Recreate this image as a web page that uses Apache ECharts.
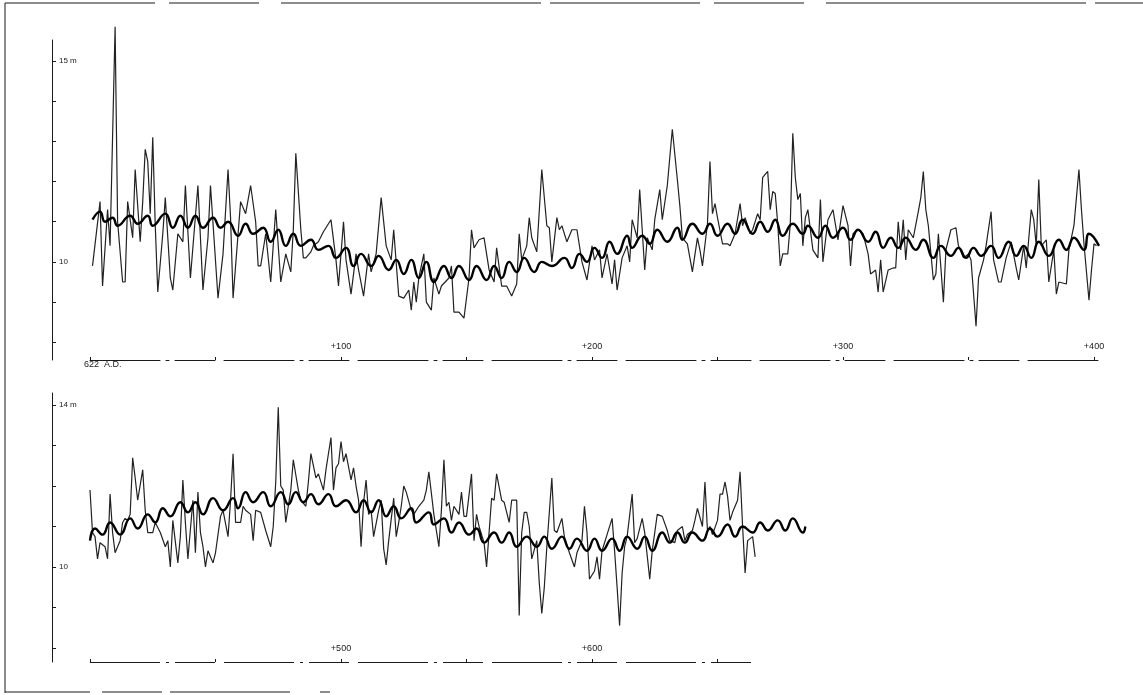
<!DOCTYPE html>
<html>
<head>
<meta charset="utf-8">
<title>Nile flood levels from 622 A.D.</title>
<script src="https://cdn.jsdelivr.net/npm/echarts@6/dist/echarts.min.js"></script>
<style>
  html, body { margin: 0; padding: 0; background: #fff; }
  #chart { width: 1143px; height: 695px; }
</style>
</head>
<body>
<div id="chart"></div>
<script>
// years counted from 622 A.D., levels in metres

// upper strip: annual maxima, years 0 - 400
const topYears = [
  1,4,5,7,8,10,11,13,14,15,
  17,18,20,21,22,23,24,25,26,27,
  29,30,32,33,35,37,38,40,43,45,
  47,48,51,53,55,56,57,60,62,64,
  66,67,68,70,72,74,76,78,80,81,
  82,84,85,86,88,89,91,93,96,98,
  99,101,102,104,106,107,109,111,112,114,
  116,118,120,121,123,125,127,128,129,130,
  131,133,134,136,137,139,140,143,144,145,
  147,149,151,152,153,155,157,159,161,162,
  164,166,168,170,171,172,174,175,176,178,
  180,182,183,184,186,187,188,190,192,194,
  196,198,200,201,203,204,206,208,209,210,
  212,214,215,216,218,219,221,222,224,225,
  227,228,230,232,234,235,236,238,239,240,
  242,243,244,246,247,248,249,250,252,254,
  255,257,259,260,261,263,264,266,267,268,
  270,271,272,273,274,275,276,278,279,280,
  281,282,283,284,285,286,288,290,291,292,
  294,296,298,300,302,303,304,306,308,310,
  311,313,314,315,316,318,320,321,322,323,
  324,325,326,328,330,331,332,333,334,336,
  337,338,340,341,343,345,346,348,350,351,
  353,354,356,357,359,360,362,363,365,367,
  369,370,372,373,375,376,377,378,379,381,
  382,384,385,386,389,390,392,393,394,395,
  396,398,399,400,401
]
const topLevels = [
  9.9,11.5,9.4,11.3,10.4,15.85,11.0,9.5,9.5,11.5,
  10.6,12.3,10.5,11.5,12.8,12.5,11.2,13.1,10.9,9.25,
  10.7,11.6,9.6,9.3,10.7,10.5,11.9,9.6,11.9,9.3,
  10.6,11.9,9.1,10.2,12.3,11.1,9.1,11.5,11.2,11.9,
  11.0,9.9,9.9,10.7,9.5,11.3,9.5,10.2,9.75,10.8,
  12.7,10.8,10.1,10.1,10.25,10.4,10.5,10.75,11.05,10.05,
  9.4,11.0,10.05,9.2,10.2,9.8,9.15,10.2,9.75,10.2,
  11.6,10.4,10.05,10.8,9.15,9.1,9.3,8.8,9.5,9.0,
  9.6,10.2,9.0,8.8,9.6,9.2,9.4,9.6,9.9,8.75,
  8.75,8.6,9.6,10.8,10.35,10.55,10.6,9.8,9.5,10.35,
  9.4,9.4,9.15,9.45,10.7,10.05,10.4,11.1,10.6,10.25,
  12.3,10.9,10.85,10.0,11.1,10.8,10.9,10.5,10.8,10.8,
  10.0,9.55,10.4,10.05,10.3,9.6,10.2,9.45,10.05,9.3,
  10.1,10.4,10.0,11.05,10.6,11.8,9.8,10.6,10.3,11.05,
  11.8,11.05,11.9,13.3,12.05,11.4,10.6,10.45,10.1,9.75,
  10.6,10.3,9.9,10.95,12.5,11.2,11.45,11.1,10.45,10.45,
  10.4,10.7,11.45,10.9,11.1,10.7,10.8,11.2,11.05,12.1,
  12.25,11.3,11.75,11.7,10.95,9.9,10.2,10.2,10.95,13.2,
  12.1,11.55,11.7,10.4,11.1,11.3,10.3,10.1,11.55,10.0,
  11.05,11.3,10.55,11.4,10.9,9.9,10.7,10.8,10.7,10.2,
  9.7,9.8,9.25,10.05,9.25,9.8,9.85,9.85,11.0,10.3,
  11.05,10.05,10.8,10.6,11.25,11.6,12.25,11.3,10.9,9.55,
  9.7,10.7,9.0,10.3,10.8,10.85,10.4,10.1,10.2,10.05,
  8.4,9.6,10.05,10.4,11.25,10.05,9.5,9.5,10.1,10.5,
  9.85,9.55,10.4,9.85,11.3,11.05,10.4,12.05,10.4,10.55,
  9.5,10.3,9.2,9.5,9.45,10.3,10.9,11.6,12.3,11.3,
  10.45,9.05,9.8,10.45,10.4
]

// upper strip: smoothed curve, crests and troughs
const topSmoothYears = [
  1,4,6,9,11,16,19,23,25,30,
  33,36,39,42,45,49,52,55,59,62,
  65,69,72,75,78,81,84,88,91,95,
  98,102,105,108,112,115,119,122,125,128,
  131,134,137,141,144,147,151,154,158,161,
  164,167,170,173,177,180,184,189,192,195,
  198,201,204,207,210,214,216,220,223,226,
  230,234,236,240,244,247,250,254,257,260,
  264,267,270,273,276,280,284,286,290,293,
  296,300,303,306,310,313,316,319,322,325,
  329,332,336,339,343,346,349,352,355,359,
  362,366,369,372,375,378,382,386,389,392,
  396,398,402
]
const topSmoothLevels = [
  11.05,11.25,11.0,11.1,10.9,11.15,10.95,11.15,10.9,11.2,
  10.85,11.15,10.85,11.15,10.85,11.1,10.85,11.0,10.65,10.95,
  10.7,10.85,10.5,10.8,10.4,10.7,10.4,10.55,10.3,10.4,
  10.1,10.35,9.9,10.2,9.9,10.15,9.8,10.05,9.7,10.05,
  9.6,10.0,9.5,9.9,9.6,9.9,9.55,9.9,9.55,9.9,
  9.6,10.0,9.75,10.1,9.75,10.0,9.9,10.1,9.85,10.2,
  10.0,10.35,10.1,10.5,10.2,10.65,10.35,10.65,10.45,10.8,
  10.5,10.85,10.55,10.95,10.7,10.95,10.65,10.95,10.7,11.05,
  10.7,11.0,10.75,11.05,10.65,10.95,10.7,10.9,10.6,10.9,
  10.6,10.85,10.55,10.8,10.5,10.75,10.35,10.6,10.35,10.6,
  10.3,10.55,10.1,10.4,10.15,10.35,10.1,10.35,10.15,10.4,
  10.1,10.5,10.15,10.4,10.1,10.5,10.15,10.55,10.3,10.6,
  10.3,10.7,10.4
]

// lower strip: annual maxima, years 400 - 665
const lowYears = [
  400,401,402,403,404,406,407,408,409,410,
  412,413,414,415,416,417,418,419,421,422,
  423,425,426,428,430,431,432,433,435,436,
  437,438,439,441,442,443,444,445,446,447,
  449,450,452,453,455,456,457,458,460,461,
  462,464,465,466,468,470,472,473,474,475,
  476,477,478,480,481,483,484,486,487,488,
  490,491,493,494,496,497,498,499,500,501,
  502,504,505,506,507,508,509,510,511,512,
  513,515,516,517,518,519,521,522,523,524,
  525,526,528,529,531,533,534,535,537,538,
  539,540,541,542,543,544,545,547,548,549,
  550,552,553,554,555,557,558,559,560,561,
  562,564,565,567,568,570,571,572,573,574,
  575,576,578,579,580,581,582,584,585,586,
  588,589,591,593,594,596,597,598,599,601,
  602,603,604,606,608,609,610,611,612,613,
  614,616,617,618,620,621,623,624,626,628,
  630,631,633,634,636,637,638,640,641,642,
  644,645,646,647,648,650,651,652,653,654,
  655,656,658,659,660,661,662,664,665
]
const lowLevels = [
  11.9,10.85,10.75,10.2,10.6,10.5,10.2,11.8,10.85,10.35,
  10.65,11.1,11.2,11.15,11.3,12.7,12.2,11.65,12.4,11.4,
  10.85,10.85,11.1,10.85,10.5,10.65,10.0,11.15,10.1,10.75,
  12.15,11.1,10.2,11.65,10.35,11.85,10.85,10.5,10.0,10.4,
  10.1,10.35,11.25,11.4,10.75,11.65,12.8,11.1,11.1,11.5,
  11.4,11.3,10.65,11.4,11.35,10.9,10.5,11.0,12.1,13.95,
  12.0,11.9,11.1,11.9,12.65,11.9,11.65,11.5,12.1,12.8,
  12.2,12.3,11.9,12.4,13.2,11.9,12.45,12.55,13.1,12.6,
  12.8,12.15,12.45,12.0,11.65,10.5,11.6,12.15,11.3,11.4,
  10.75,11.4,11.65,10.45,10.05,10.65,11.7,10.75,11.1,11.5,
  12.0,11.85,11.4,11.3,11.5,11.65,11.9,12.35,11.3,10.9,
  10.5,11.4,12.65,11.5,11.6,11.15,11.5,11.3,11.85,11.25,
  11.25,12.3,10.65,11.3,11.0,10.6,10.0,10.85,11.7,11.65,
  12.3,11.65,11.6,11.1,11.65,11.65,8.8,10.85,11.35,11.35,
  11.0,10.2,10.65,9.6,8.85,9.5,10.5,12.2,10.9,10.85,
  11.2,10.75,10.35,10.0,10.35,10.65,11.5,10.85,9.7,9.9,
  10.25,9.7,10.4,10.8,11.2,10.4,9.5,8.55,9.85,10.5,
  10.75,11.8,10.6,10.7,11.2,10.85,9.7,10.4,11.3,11.25,
  10.9,10.65,10.6,10.9,11.0,10.65,10.8,10.9,11.15,11.45,
  11.0,12.1,10.9,11.0,10.8,11.15,11.8,11.8,12.1,11.75,
  11.15,11.35,11.65,12.35,11.0,9.85,10.65,10.75,10.25
]

// lower strip: smoothed curve, runs on past the last annual value
const lowSmoothYears = [
  400,402,405,408,412,416,419,423,426,429,
  432,436,439,442,445,449,453,457,459,462,
  465,469,472,476,479,482,485,488,491,495,
  498,502,506,509,512,515,518,521,524,528,
  530,535,537,541,544,547,551,554,557,561,
  564,567,570,574,578,581,584,588,591,594,
  598,601,604,608,611,614,618,621,624,628,
  631,634,637,640,644,647,650,654,657,660,
  664,667,670,674,677,680,684,685
]
const lowSmoothLevels = [
  10.65,10.95,10.8,11.1,10.8,11.2,10.95,11.3,11.1,11.45,
  11.25,11.6,11.35,11.6,11.3,11.7,11.4,11.7,11.45,11.85,
  11.6,11.85,11.5,11.85,11.55,11.85,11.6,11.8,11.55,11.8,
  11.5,11.65,11.35,11.65,11.35,11.65,11.25,11.5,11.2,11.45,
  11.1,11.35,11.05,11.2,10.85,11.1,10.8,10.95,10.6,10.85,
  10.6,10.85,10.5,10.75,10.5,10.75,10.45,10.75,10.45,10.7,
  10.4,10.7,10.4,10.7,10.4,10.75,10.45,10.75,10.4,10.85,
  10.6,10.85,10.6,10.85,10.65,10.95,10.75,11.05,10.75,11.0,
  10.85,11.1,10.9,11.15,10.9,11.2,10.85,11.0
]

const topTicks = [8, 9, 10, 11, 12, 13, 14, 15]
const topLabels = [10, 15]
const lowTicks = [8, 9, 10, 11, 12, 13, 14]
const lowLabels = [10, 14]
const topYearTicks = [0, 50, 100, 150, 200, 250, 300, 350, 400]
const topYearLabels = [100, 200, 300, 400]
const lowYearTicks = [400, 450, 500, 550, 600, 650]
const lowYearLabels = [500, 600]

const pxPerYear = 2.51
const ink = '#1a1a1a'
const font = '"Liberation Sans", "DejaVu Sans", sans-serif'
const brokenRule = [70, 6, 3, 6, 40, 9]

function pairs(xs, ys) {
    return xs.map((x, i) => [x, ys[i]])
}

let chart = echarts.init(document.getElementById('chart'))

function yAxisFor(index, min, max, ticks, labels, topValue) {
    return {
        type: 'value',
        gridIndex: index,
        min: min,
        max: max,
        position: 'left',
        offset: 38,
        axisLine: { show: true, onZero: false, lineStyle: { color: ink, width: 1 } },
        axisTick: { show: true, inside: true, length: 4, customValues: ticks, lineStyle: { color: ink } },
        axisLabel: {
            show: true,
            inside: true,
            margin: 7,
            customValues: labels,
            color: ink,
            fontSize: 8,
            fontFamily: font,
            formatter: v => v === topValue ? v + ' m' : String(v)
        },
        splitLine: { show: false }
    }
}

function xAxisFor(index, min, max, ticks, labels, showLine) {
    return {
        type: 'value',
        gridIndex: index,
        min: min,
        max: max,
        axisLine: { show: showLine, onZero: false, lineStyle: { color: ink, width: 1, type: brokenRule } },
        axisTick: { show: true, inside: true, length: 3, customValues: ticks, lineStyle: { color: ink } },
        axisLabel: {
            show: true,
            inside: true,
            margin: 9,
            customValues: labels,
            color: ink,
            fontSize: 9,
            fontFamily: font,
            formatter: v => '+' + v
        },
        splitLine: { show: false }
    }
}

const lowMin = 7.65

chart.setOption({
    animation: false,
    backgroundColor: '#fff',
    grid: [
        { left: 90, top: 40, width: 403 * pxPerYear, height: 320 },
        { left: 90, top: 393, width: 290 * pxPerYear, height: 269 }
    ],
    xAxis: [
        xAxisFor(0, 0, 403, topYearTicks, topYearLabels, true),
        xAxisFor(1, 400, 690, lowYearTicks, lowYearLabels, false)
    ],
    yAxis: [
        yAxisFor(0, 7.56, 15.52, topTicks, topLabels, 15),
        yAxisFor(1, lowMin, 14.3, lowTicks, lowLabels, 14)
    ],
    series: [
        {
            name: 'annual, 0-400',
            type: 'line',
            xAxisIndex: 0,
            yAxisIndex: 0,
            data: pairs(topYears, topLevels),
            symbol: 'none',
            lineStyle: { color: '#222', width: 1.2 },
            clip: false
        },
        {
            name: 'smoothed, 0-400',
            type: 'line',
            xAxisIndex: 0,
            yAxisIndex: 0,
            data: pairs(topSmoothYears, topSmoothLevels),
            smooth: 0.5,
            symbol: 'none',
            lineStyle: { color: '#000', width: 2.4 },
            z: 3,
            clip: false
        },
        {
            name: 'annual, 400-665',
            type: 'line',
            xAxisIndex: 1,
            yAxisIndex: 1,
            data: pairs(lowYears, lowLevels),
            symbol: 'none',
            lineStyle: { color: '#222', width: 1.2 },
            // the lower time rule only runs as far as the annual record
            markLine: {
                silent: true,
                symbol: 'none',
                label: { show: false },
                lineStyle: { color: ink, width: 1, type: brokenRule },
                data: [[
                    { coord: [lowYears[0], lowMin] },
                    { coord: [lowYears[lowYears.length - 1], lowMin] }
                ]]
            }
        },
        {
            name: 'smoothed, 400-685',
            type: 'line',
            xAxisIndex: 1,
            yAxisIndex: 1,
            data: pairs(lowSmoothYears, lowSmoothLevels),
            smooth: 0.5,
            symbol: 'none',
            lineStyle: { color: '#000', width: 2.4 },
            z: 3
        }
    ],
    graphic: [
        // scanned page frame
        { type: 'line', shape: { x1: 5, y1: 3, x2: 5, y2: 693 }, style: { stroke: ink, lineWidth: 1 } },
        { type: 'line', shape: { x1: 5, y1: 3, x2: 1143, y2: 3 }, style: { stroke: ink, lineWidth: 1, lineDash: [150, 14, 90, 22, 260, 9] } },
        { type: 'line', shape: { x1: 5, y1: 692, x2: 330, y2: 692 }, style: { stroke: ink, lineWidth: 1, lineDash: [85, 12, 60, 8, 120, 30] } },
        {
            type: 'text',
            left: 84,
            top: 360,
            style: { text: '622  A.D.', fill: ink, font: '9px ' + font }
        }
    ]
})
</script>
</body>
</html>
